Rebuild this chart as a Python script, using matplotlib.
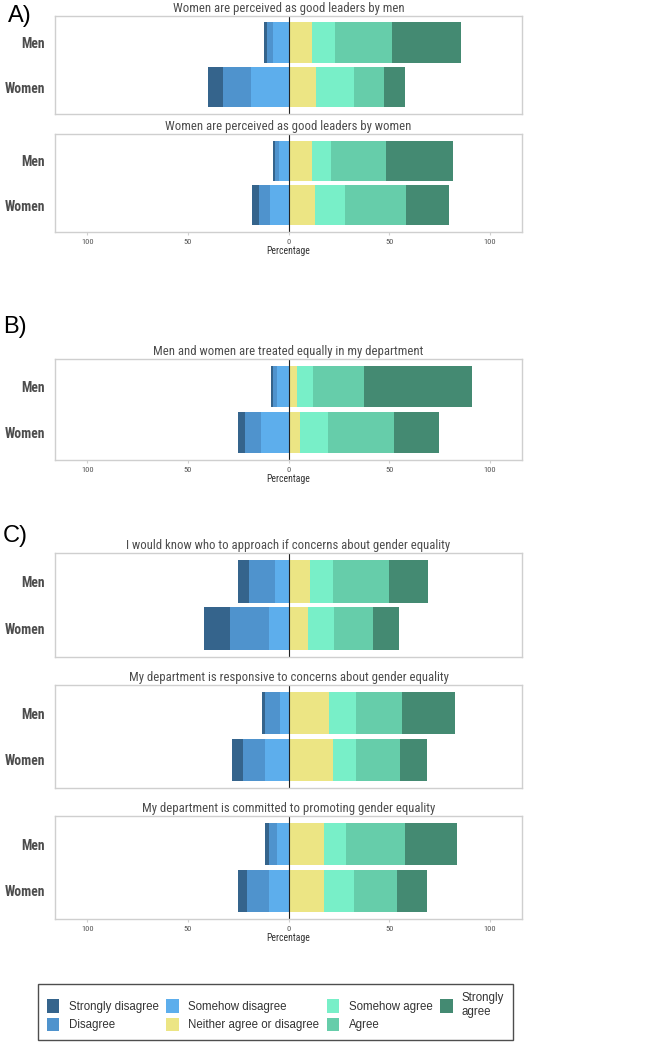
import matplotlib
matplotlib.use('Agg')
import matplotlib.pyplot as plt
from matplotlib.patches import Patch
from matplotlib.ticker import FuncFormatter

plt.rcParams['font.family'] = ['Roboto Condensed', 'Liberation Sans', 'DejaVu Sans']

# answer levels, from most negative to most positive
levels = ['Strongly disagree', 'Disagree', 'Somehow disagree',
          'Neither agree or disagree', 'Somehow agree', 'Agree', 'Strongly agree']
colors = ['#35648c', '#4f93cd', '#5daeec', '#ece584', '#78efc8', '#66cdaa', '#448a72']

groups = ['Men', 'Women']

questions = [
    'Women are perceived as good leaders by men',
    'Women are perceived as good leaders by women',
    'Men and women are treated equally in my department',
    'I would know who to approach if concerns about gender equality',
    'My department is responsive to concerns about gender equality',
    'My department is committed to promoting gender equality',
]

# percentages per level (same order as levels)
men = [
    [1.2, 2.9, 7.9, 11.9, 11.3, 28.4, 34.0],
    [1.1, 1.7, 4.8, 11.8, 9.4, 27.1, 33.2],
    [1.0, 2.3, 5.5, 4.0, 8.1, 25.2, 54.1],
    [5.8, 12.7, 6.8, 10.9, 11.3, 27.8, 19.5],
    [1.2, 7.8, 4.1, 19.9, 13.7, 22.7, 26.5],
    [1.9, 4.1, 5.8, 17.7, 11.1, 29.1, 25.9],
]
women = [
    [7.6, 13.6, 18.7, 13.9, 18.4, 15.2, 10.4],
    [3.3, 5.5, 9.4, 13.4, 14.6, 30.3, 21.5],
    [3.6, 8.0, 13.7, 5.5, 13.9, 32.8, 22.6],
    [12.9, 19.4, 9.9, 9.6, 13.1, 19.5, 12.8],
    [5.9, 10.6, 11.8, 22.0, 11.4, 21.9, 13.4],
    [4.6, 10.8, 9.9, 17.5, 14.8, 21.8, 14.8],
]

W, H = 665, 1048
fig = plt.figure(figsize=(W / 100, H / 100), dpi=100)

# panel boxes in pixels: (top, bottom)
boxes = [(15.7, 114), (134, 232), (359, 460), (553, 657), (685, 788), (816, 919)]
show_x = [False, True, True, False, False, True]
x0, x1 = 55, 522

for i, q in enumerate(questions):
    top, bot = boxes[i]
    ax = fig.add_axes([x0 / W, 1 - bot / H, (x1 - x0) / W, (bot - top) / H])
    rows = [men[i], women[i]]
    for j, vals in enumerate(rows):
        y = 1 - j
        # negative side: stack outward from zero
        left = 0
        for k in [2, 1, 0]:
            ax.barh(y, -vals[k], left=left, height=0.9, color=colors[k], linewidth=0)
            left -= vals[k]
        left = 0
        for k in [3, 4, 5, 6]:
            ax.barh(y, vals[k], left=left, height=0.9, color=colors[k], linewidth=0)
            left += vals[k]
    ax.axvline(0, color='#222222', lw=0.8)
    ax.set_xlim(-116, 116)
    ax.set_ylim(-0.6, 1.6)
    ax.set_yticks([1, 0], groups)
    ax.tick_params(axis='y', length=0, pad=7, labelsize=9.8, labelcolor='#4d4d4d')
    for t in ax.get_yticklabels():
        t.set_fontweight('bold')
    ax.set_xticks([-100, -50, 0, 50, 100])
    ax.xaxis.set_major_formatter(FuncFormatter(lambda v, p: '%d' % abs(v)))
    ax.tick_params(axis='x', length=2, color='#d0d0d0', labelsize=6, labelcolor='#555555', pad=3)
    if show_x[i]:
        ax.set_xlabel('Percentage', fontsize=7, color='#333333', labelpad=1)
    else:
        ax.tick_params(axis='x', labelbottom=False, length=0)
    for s in ax.spines.values():
        s.set_color('#cfcfcf')
        s.set_linewidth(1.0)
    ax.set_title(q, fontsize=9.2, color='#4d4d4d', pad=3)

fig.text(8 / W, 1 - 16 / H, 'A)', fontsize=17, va='center', ha='left', family='Liberation Sans')
fig.text(3 / W, 1 - 327 / H, 'B)', fontsize=17, va='center', ha='left', family='Liberation Sans')
fig.text(3 / W, 1 - 536 / H, 'C)', fontsize=17, va='center', ha='left', family='Liberation Sans')

labels = levels[:6] + ['Strongly\nagree']
handles = [Patch(facecolor=c, edgecolor='none') for c in colors]
leg = fig.legend(handles, labels, ncol=4, loc='lower left', mode='expand',
                 bbox_to_anchor=(38 / W, 1 - 1040 / H, 475 / W, 51 / H),
                 frameon=True, fancybox=False, edgecolor='#222222',
                 handlelength=1.1, handleheight=1.4, handletextpad=0.8, columnspacing=1.0,
                 labelspacing=0.45, borderpad=0.75, borderaxespad=0,
                 prop={'family': 'Liberation Sans', 'size': 8.3})
for t in leg.get_texts():
    t.set_color('#333333')
leg.get_frame().set_linewidth(1.0)

fig.savefig('out.png', dpi=100)
